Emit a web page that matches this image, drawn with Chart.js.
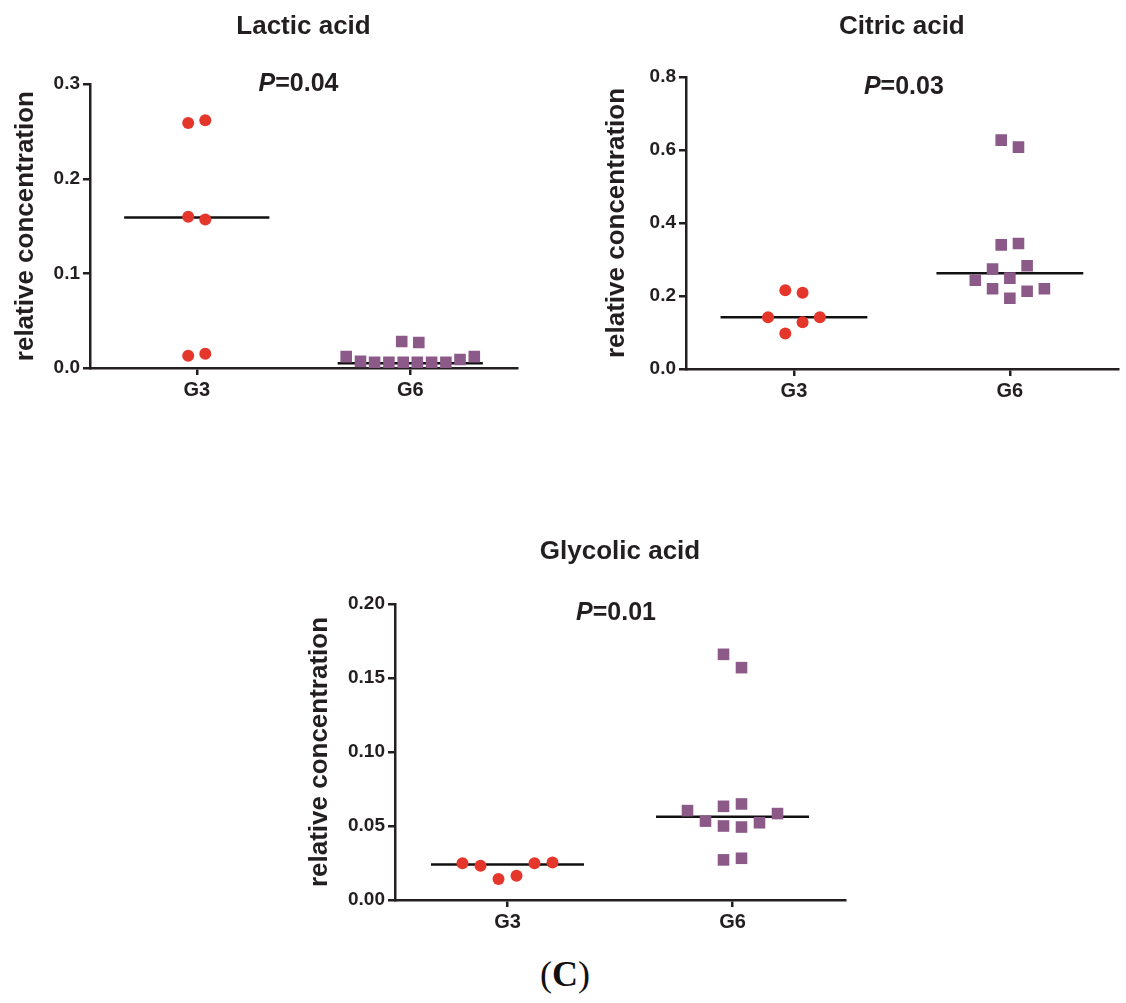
<!DOCTYPE html>
<html>
<head>
<meta charset="utf-8">
<title>relative concentration</title>
<script src="https://cdn.jsdelivr.net/npm/chart.js@4.4.1/dist/chart.umd.min.js"></script>
<style>
  body { margin: 0; background: #fff; }
  #page { position: relative; width: 1126px; height: 1003px; overflow: hidden; }
  canvas { position: absolute; }
  #panel-label {
    position: absolute; left: 465px; width: 200px; top: 956px; text-align: center;
    font-family: 'Liberation Serif', 'Times New Roman', serif; font-size: 36px; line-height: 36px; color: #111;
  }
</style>
</head>
<body>
<div id="page">
  <canvas id="lactic" width="540" height="420" style="left:0;top:0"></canvas>
  <canvas id="citric" width="536" height="420" style="left:590px;top:0"></canvas>
  <canvas id="glycolic" width="570" height="420" style="left:290px;top:520px"></canvas>
  <div id="panel-label">(<b>C</b>)</div>
</div>
<script>
// 分组
const groups = ['G3', 'G6'];

// 乳酸 Lactic acid
const lacticG3 = [0.259, 0.262, 0.160, 0.157, 0.013, 0.015];
const lacticG3X = [-0.04, 0.04, -0.04, 0.04, -0.04, 0.04];
const lacticG6 = [0.012, 0.007, 0.006, 0.006, 0.006, 0.006, 0.006, 0.006, 0.009, 0.012, 0.028, 0.027];
const lacticG6X = [-0.30, -0.233, -0.167, -0.10, -0.033, 0.033, 0.10, 0.167, 0.233, 0.30, -0.04, 0.04];
const lacticMedian = [0.159, 0.005];
const lacticTicks = ['0.0', '0.1', '0.2', '0.3'];

// 柠檬酸 Citric acid
const citricG3 = [0.216, 0.209, 0.142, 0.128, 0.142, 0.097];
const citricG3X = [-0.04, 0.04, -0.12, 0.04, 0.12, -0.04];
const citricG6 = [0.627, 0.608, 0.340, 0.344, 0.274, 0.283, 0.243, 0.249, 0.220, 0.194, 0.213, 0.220];
const citricG6X = [-0.04, 0.04, -0.04, 0.04, -0.08, 0.08, -0.16, 0, -0.08, 0, 0.08, 0.16];
const citricMedian = [0.142, 0.262];
const citricTicks = ['0.0', '0.2', '0.4', '0.6', '0.8'];

// 乙醇酸 Glycolic acid
const glycolicG3 = [0.0249, 0.0231, 0.0142, 0.0164, 0.0249, 0.0253];
const glycolicG3X = [-0.2, -0.12, -0.04, 0.04, 0.12, 0.2];
const glycolicG6 = [0.166, 0.157, 0.0604, 0.0533, 0.0633, 0.0649, 0.050, 0.0493, 0.0522, 0.0584, 0.0271, 0.0282];
const glycolicG6X = [-0.04, 0.04, -0.2, -0.12, -0.04, 0.04, -0.04, 0.04, 0.12, 0.2, -0.04, 0.04];
const glycolicMedian = [0.024, 0.0562];
const glycolicTicks = ['0.00', '0.05', '0.10', '0.15', '0.20'];

const AXIS = '#231f20';
const RED = '#e5362b';
const PURPLE = '#8c5a88';
const FONT = "'Liberation Sans', Arial, sans-serif";

// P 值标注插件（P 为斜体）
const pLabel = {
  id: 'pLabel',
  afterDraw(chart, args, opts) {
    const { ctx, chartArea } = chart;
    const italic = `italic bold ${opts.size}px ${FONT}`;
    const plain = `bold ${opts.size}px ${FONT}`;
    const rest = '=' + opts.value;
    ctx.save();
    ctx.font = italic;
    const w1 = ctx.measureText('P').width;
    ctx.font = plain;
    const w2 = ctx.measureText(rest).width;
    const x = (chartArea.left + chartArea.right) / 2 - (w1 + w2) / 2 + opts.dx;
    const y = chartArea.top + opts.dy;
    ctx.fillStyle = AXIS;
    ctx.textAlign = 'left';
    ctx.textBaseline = 'middle';
    ctx.font = italic;
    ctx.fillText('P', x, y);
    ctx.font = plain;
    ctx.fillText(rest, x + w1, y);
    ctx.restore();
  }
};

function makeChart(id, cfg, box) {
  const toPts = (vals, xs, g) => vals.map((v, i) => ({ x: g + xs[i], y: v }));
  const medianLine = (m, g) => [{ x: g - 0.34, y: m }, { x: g + 0.34, y: m }];
  const axisGrid = { drawOnChartArea: false, drawTicks: true, tickLength: 7, lineWidth: 2.5, color: AXIS };
  const axisBorder = { display: true, width: 2.5, color: AXIS };
  const lineSet = (m, g) => ({
    data: medianLine(m, g), showLine: true, borderColor: '#111', borderWidth: 2.5,
    pointRadius: 0, order: 2
  });

  return new Chart(document.getElementById(id), {
    type: 'scatter',
    data: {
      datasets: [
        { data: toPts(cfg.g3, cfg.g3x, 0), pointStyle: 'circle', pointRadius: 6,
          backgroundColor: RED, borderColor: RED, borderWidth: 0, order: 1 },
        { data: toPts(cfg.g6, cfg.g6x, 1), pointStyle: 'rect', pointRadius: 8.2,
          backgroundColor: PURPLE, borderColor: PURPLE, borderWidth: 0, order: 1 },
        lineSet(cfg.median[0], 0),
        lineSet(cfg.median[1], 1)
      ]
    },
    plugins: [pLabel],
    options: {
      responsive: false,
      animation: false,
      events: [],
      layout: { padding: { left: 0, right: box.padRight, top: 0, bottom: 0 } },
      plugins: {
        legend: { display: false },
        tooltip: { enabled: false },
        title: {
          display: true, text: cfg.title, fullSize: false, color: AXIS,
          font: { family: FONT, size: 26, weight: 'bold', lineHeight: 1.2 },
          padding: { top: box.titleTop, bottom: box.titleBottom }
        },
        pLabel: { value: cfg.p, size: 25, dx: box.pDx, dy: box.pDy }
      },
      scales: {
        x: {
          type: 'linear', min: -0.5, max: 1.5,
          afterBuildTicks: s => { s.ticks = groups.map((g, i) => ({ value: i })); },
          afterFit: s => { s.height = box.xHeight; },
          ticks: {
            callback: v => groups[v], color: AXIS, padding: 3, maxRotation: 0, autoSkip: false,
            font: { family: FONT, size: 20, weight: 'bold' }
          },
          grid: axisGrid,
          border: axisBorder
        },
        y: {
          type: 'linear', min: 0, max: parseFloat(cfg.ticks[cfg.ticks.length - 1]),
          afterBuildTicks: s => { s.ticks = cfg.ticks.map(t => ({ value: parseFloat(t) })); },
          afterFit: s => { s.width = box.yWidth; },
          ticks: {
            callback: (v, i) => cfg.ticks[i], color: AXIS, padding: 3,
            font: { family: FONT, size: 19, weight: 'bold' }
          },
          grid: axisGrid,
          border: axisBorder,
          title: {
            display: true, text: 'relative concentration', color: AXIS,
            font: { family: FONT, size: 26, weight: 'bold', lineHeight: 1.2 },
            padding: { top: box.yTitlePad, bottom: 0 }
          }
        }
      }
    }
  });
}

// 绘制三个子图
makeChart('lactic', {
  title: 'Lactic acid', p: '0.04', ticks: lacticTicks,
  g3: lacticG3, g3x: lacticG3X, g6: lacticG6, g6x: lacticG6X, median: lacticMedian
}, { yWidth: 90, padRight: 23, xHeight: 52, titleTop: 11.4, titleBottom: 41.6, yTitlePad: 10.4, pDx: -5, pDy: 0 });

makeChart('citric', {
  title: 'Citric acid', p: '0.03', ticks: citricTicks,
  g3: citricG3, g3x: citricG3X, g6: citricG6, g6x: citricG6X, median: citricMedian
}, { yWidth: 96, padRight: 0, xHeight: 51, titleTop: 11.4, titleBottom: 34.4, yTitlePad: 11, pDx: 2, pDy: 10 });

makeChart('glycolic', {
  title: 'Glycolic acid', p: '0.01', ticks: glycolicTicks,
  g3: glycolicG3, g3x: glycolicG3X, g6: glycolicG6, g6x: glycolicG6X, median: glycolicMedian
}, { yWidth: 105, padRight: 15, xHeight: 40, titleTop: 16.4, titleBottom: 36.4, yTitlePad: 14.4, pDx: -4, pDy: 9 });
</script>
</body>
</html>
